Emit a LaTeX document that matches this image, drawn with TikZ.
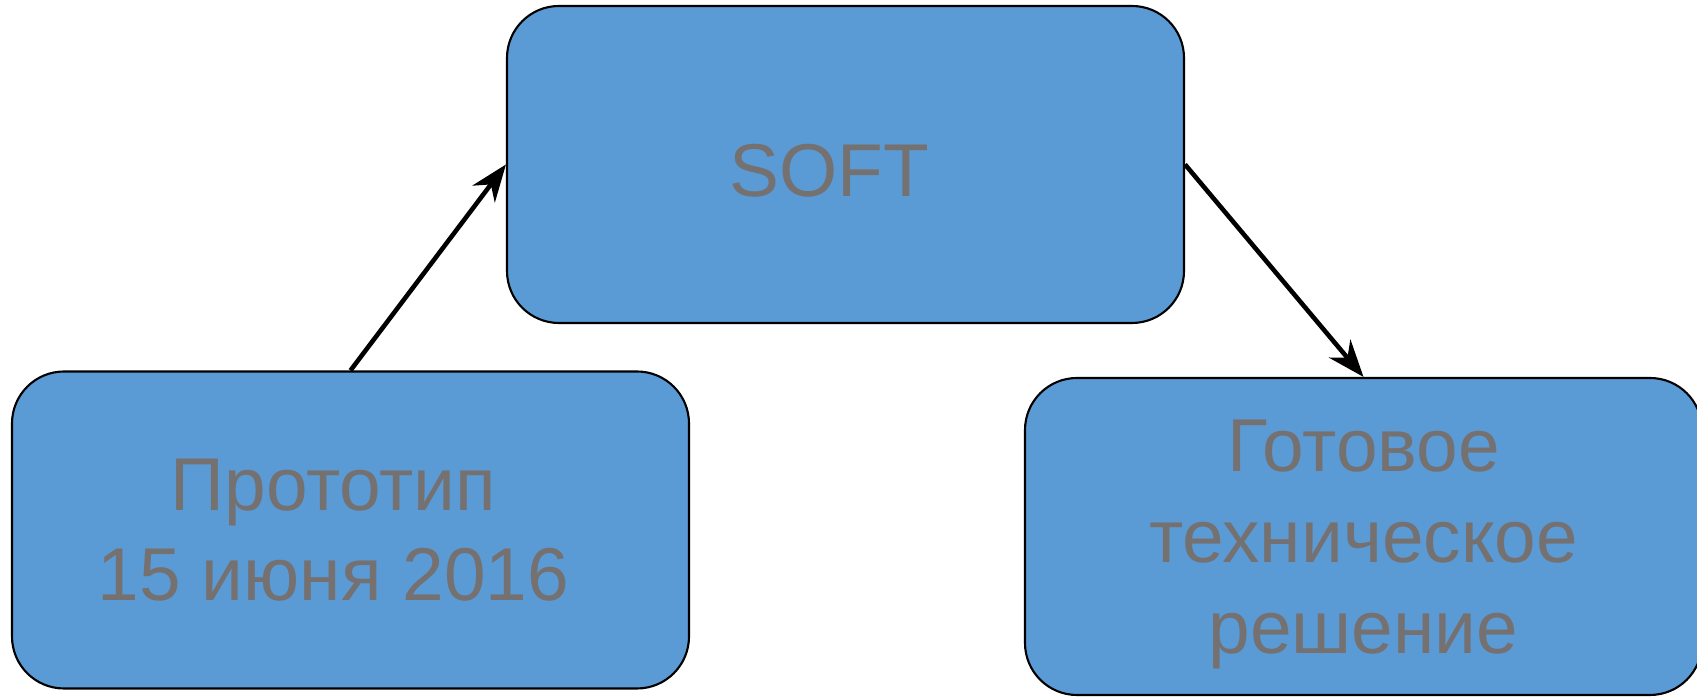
\documentclass[tikz,border=0pt]{standalone}
\usepackage{fontspec}
\setmainfont{Liberation Sans}
\usetikzlibrary{arrows.meta}
\definecolor{boxblue}{HTML}{5B9BD5}
\definecolor{textgray}{HTML}{767171}
% text lowered by #1, box size kept
\newcommand{\lowtext}[2]{\raisebox{-#1}[\height][\depth]{#2}}

\begin{document}
\begin{tikzpicture}[block/.style={draw=black,line width=0.6pt,fill=boxblue,rounded corners=0.52cm,minimum width=6.77cm,minimum height=3.17cm,text=textgray,align=center,font=\fontsize{21.3pt}{25.8pt}\selectfont},
	link/.style={-{Stealth[length=0.37cm,width=0.28cm]},line width=1.3pt}]

	\useasboundingbox (0,0) rectangle (16.97,-6.97);

	\node[block] (soft) at (8.455,-1.645) {\lowtext{0.06cm}{SOFT}\kern0.32cm};
	\node[block] (proto) at (3.505,-5.30) {Прототип\kern0.34cm\\15 июня 2016\kern0.34cm};
	\node[block] (ready) at (13.635,-5.365) {\lowtext{0.08cm}{Готовое}\\\lowtext{0.08cm}{техническое}\\\lowtext{0.08cm}{решение}};

	\draw[link] (proto.north) -- (soft.west);
	\draw[link] (soft.east) -- (ready.north);

\end{tikzpicture}
\end{document}
